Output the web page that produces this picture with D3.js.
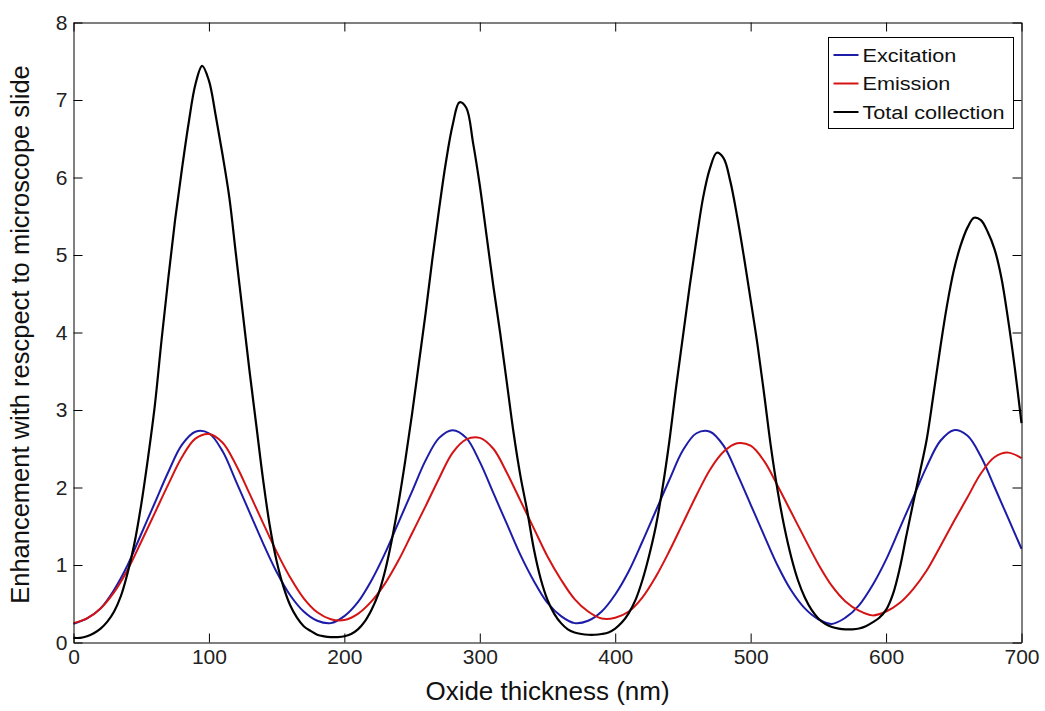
<!DOCTYPE html>
<html>
<head>
<meta charset="utf-8">
<script src="https://cdn.jsdelivr.net/npm/d3@7"></script>
<style>
  body { margin: 0; background: #fff; }
  svg { display: block; }
  text { font-family: "Liberation Sans", Arial, Helvetica, sans-serif; }
</style>
</head>
<body>
<svg id="chart" width="1045" height="711"></svg>
<script>
// Oxide thickness grids (nm)
const thicknessFine = d3.range(0, 701, 5);     // 5 nm steps
const thicknessCoarse = d3.range(0, 701, 10);  // 10 nm steps

// Enhancement factors relative to a bare microscope slide
const excitation = [
  0.24, 0.31, 0.44, 0.68, 1.00, 1.40, 1.80, 2.20, 2.55, 2.72,
  2.70, 2.47, 2.08, 1.68, 1.28, 0.91, 0.61, 0.40, 0.28, 0.25,
  0.34, 0.52, 0.80, 1.15, 1.55, 1.95, 2.35, 2.64, 2.74, 2.64,
  2.33, 1.93, 1.53, 1.13, 0.79, 0.51, 0.34, 0.25, 0.28, 0.40,
  0.62, 0.92, 1.30, 1.70, 2.10, 2.48, 2.70, 2.72, 2.54, 2.18,
  1.78, 1.38, 0.99, 0.67, 0.44, 0.30, 0.24, 0.32, 0.48, 0.74,
  1.07, 1.47, 1.87, 2.27, 2.60, 2.74, 2.67, 2.40, 2.01, 1.61,
  1.21
];

const emission = [
  0.25, 0.31, 0.44, 0.65, 0.94, 1.30, 1.67, 2.04, 2.39, 2.63,
  2.69, 2.58, 2.29, 1.92, 1.54, 1.17, 0.84, 0.57, 0.39, 0.30,
  0.29, 0.37, 0.53, 0.76, 1.06, 1.41, 1.76, 2.12, 2.45, 2.62,
  2.64, 2.50, 2.19, 1.83, 1.47, 1.11, 0.81, 0.56, 0.40, 0.31,
  0.32, 0.40, 0.58, 0.85, 1.18, 1.54, 1.90, 2.23, 2.46, 2.57,
  2.54, 2.34, 2.02, 1.68, 1.34, 1.01, 0.73, 0.53, 0.41, 0.35,
  0.40, 0.51, 0.69, 0.93, 1.24, 1.56, 1.87, 2.18, 2.39, 2.45,
  2.38
];

const totalCollection = [
  0.06, 0.06, 0.08, 0.12, 0.18, 0.27, 0.40, 0.60, 0.90, 1.28,
  1.78, 2.38, 3.05, 3.90, 4.70, 5.45, 6.10, 6.70, 7.20, 7.44,
  7.25,
  6.80, 6.30, 5.75, 5.00, 4.25, 3.50, 2.80, 2.10, 1.50, 1.05,
  0.72, 0.48, 0.32, 0.21, 0.15, 0.10, 0.08, 0.07, 0.07, 0.08,
  0.11, 0.17, 0.27, 0.42, 0.62, 0.92, 1.32, 1.80, 2.35, 2.95,
  3.60, 4.25, 4.95, 5.60, 6.20, 6.68, 6.97, 6.90, 6.45, 5.90,
  5.25, 4.60, 4.00, 3.35, 2.70, 2.15, 1.70, 1.20, 0.82, 0.55,
  0.37, 0.25, 0.17, 0.13, 0.11, 0.10, 0.10, 0.11, 0.13, 0.18,
  0.26, 0.38, 0.55, 0.80, 1.12, 1.50, 2.00, 2.60, 3.30, 3.95,
  4.60, 5.20, 5.75, 6.12, 6.32, 6.25, 5.95, 5.50, 4.98, 4.42,
  3.85, 3.20, 2.52, 1.95, 1.48, 1.10, 0.80, 0.58, 0.42, 0.31,
  0.24, 0.20, 0.18, 0.17, 0.17, 0.18, 0.21, 0.26, 0.32, 0.42,
  0.62, 0.95, 1.38, 1.80, 2.20, 2.62, 3.20, 3.80, 4.35, 4.80,
  5.12, 5.35, 5.48, 5.45, 5.30, 5.08, 4.72, 4.18, 3.55, 2.83
];

const seriesNames = ["Excitation", "Emission", "Total collection"];
const seriesColors = ["#1c1ca8", "#d41414", "#000000"];

const xTicks = [0, 100, 200, 300, 400, 500, 600, 700];
const yTicks = [0, 1, 2, 3, 4, 5, 6, 7, 8];

const xLabel = "Oxide thickness (nm)";
const yLabel = "Enhancement with rescpect to microscope slide";

// ---- layout ----
const svg = d3.select("#chart");
const plotLeft = 73.5, plotRight = 1021.5, plotTop = 22.5, plotBottom = 642.5;

const x = d3.scaleLinear().domain([0, 700]).range([plotLeft, plotRight]);
const y = d3.scaleLinear().domain([0, 8]).range([plotBottom, plotTop]);

svg.append("rect").attr("width", 1045).attr("height", 711).attr("fill", "#fff");

// ---- curves ----
const series = [
  { name: seriesNames[0], color: seriesColors[0], xs: thicknessCoarse, ys: excitation, w: 2 },
  { name: seriesNames[1], color: seriesColors[1], xs: thicknessCoarse, ys: emission, w: 2 },
  { name: seriesNames[2], color: seriesColors[2], xs: thicknessFine, ys: totalCollection, w: 2.2 }
];

const line = d3.line()
  .x(d => x(d[0]))
  .y(d => y(d[1]))
  .curve(d3.curveCatmullRom.alpha(0.5));

const plot = svg.append("g");
series.forEach(s => {
  plot.append("path")
    .datum(s.xs.map((t, i) => [t, s.ys[i]]))
    .attr("fill", "none")
    .attr("stroke", s.color)
    .attr("stroke-width", s.w)
    .attr("stroke-linejoin", "round")
    .attr("d", line);
});

// ---- axes (box with inward ticks) ----
const tickLen = 9;
const styleAxis = g => {
  g.selectAll(".domain").attr("stroke", "#000").attr("stroke-width", 1).attr("fill", "none");
  g.selectAll(".tick line").attr("stroke", "#000").attr("stroke-width", 1);
  g.selectAll(".tick text").attr("fill", "#222").style("font-size", "21px");
};

svg.append("g")
  .attr("transform", `translate(0,${plotBottom})`)
  .call(d3.axisBottom(x).tickValues(xTicks).tickSizeInner(-tickLen).tickSizeOuter(0).tickPadding(7))
  .call(styleAxis);

svg.append("g")
  .attr("transform", `translate(0,${plotTop})`)
  .call(d3.axisTop(x).tickValues(xTicks).tickSizeInner(-tickLen).tickSizeOuter(0).tickFormat(""))
  .call(styleAxis);

svg.append("g")
  .attr("transform", `translate(${plotLeft},0)`)
  .call(d3.axisLeft(y).tickValues(yTicks).tickSizeInner(-tickLen).tickSizeOuter(0).tickPadding(6))
  .call(styleAxis);

svg.append("g")
  .attr("transform", `translate(${plotRight},0)`)
  .call(d3.axisRight(y).tickValues(yTicks).tickSizeInner(-tickLen).tickSizeOuter(0).tickFormat(""))
  .call(styleAxis);

// ---- axis titles ----
svg.append("text")
  .attr("x", (plotLeft + plotRight) / 2)
  .attr("y", 700)
  .attr("text-anchor", "middle")
  .attr("fill", "#111")
  .style("font-size", "26px")
  .text(xLabel);

svg.append("text")
  .attr("transform", `translate(29,${(plotTop + plotBottom) / 2 + 2}) rotate(-90)`)
  .attr("text-anchor", "middle")
  .attr("fill", "#111")
  .style("font-size", "25.5px")
  .text(yLabel);

// ---- legend ----
const legend = svg.append("g");
const lgX = 828.5, lgY = 37.5, lgW = 185, lgH = 91;
legend.append("rect")
  .attr("x", lgX).attr("y", lgY).attr("width", lgW).attr("height", lgH)
  .attr("fill", "#fff").attr("stroke", "#000").attr("stroke-width", 1);

const rowY = [55, 83.5, 112];
series.forEach((s, i) => {
  legend.append("line")
    .attr("x1", lgX + 5).attr("x2", lgX + 30)
    .attr("y1", rowY[i]).attr("y2", rowY[i])
    .attr("stroke", s.color).attr("stroke-width", 2);
  legend.append("text")
    .attr("transform", `translate(${lgX + 34},${rowY[i]}) scale(1.14,1)`)
    .attr("dy", "0.36em")
    .attr("fill", "#111")
    .style("font-size", "19px")
    .text(s.name);
});
</script>
</body>
</html>
